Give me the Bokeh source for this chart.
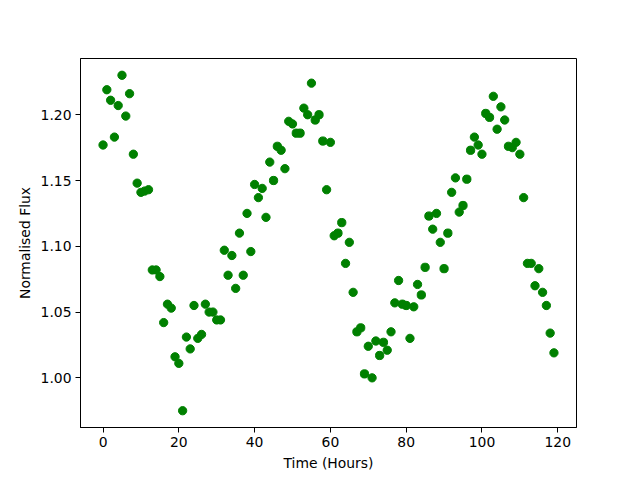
from bokeh.plotting import figure
from bokeh.models import Range1d, FixedTicker, NumeralTickFormatter
from bokeh.embed import file_html
from bokeh.resources import INLINE

time_hours = list(range(120))
flux = [
    1.177, 1.219, 1.211, 1.183, 1.207, 1.230, 1.199, 1.216, 1.170, 1.148,
    1.141, 1.142, 1.143, 1.082, 1.082, 1.077, 1.042, 1.056, 1.053, 1.016,
    1.011, 0.975, 1.031, 1.022, 1.055, 1.030, 1.033, 1.056, 1.050, 1.050,
    1.044, 1.044, 1.097, 1.078, 1.093, 1.068, 1.110, 1.078, 1.125, 1.096,
    1.147, 1.137, 1.144, 1.122, 1.164, 1.150, 1.176, 1.173, 1.159, 1.195,
    1.193, 1.186, 1.186, 1.205, 1.200, 1.224, 1.196, 1.200, 1.180, 1.143,
    1.179, 1.108, 1.110, 1.118, 1.087, 1.103, 1.065, 1.035, 1.038, 1.003,
    1.024, 1.000, 1.028, 1.017, 1.027, 1.021, 1.035, 1.057, 1.074, 1.056,
    1.055, 1.030, 1.054, 1.071, 1.063, 1.084, 1.123, 1.113, 1.125, 1.103,
    1.083, 1.110, 1.141, 1.152, 1.126, 1.131, 1.151, 1.173, 1.183, 1.177,
    1.170, 1.201, 1.198, 1.214, 1.189, 1.206, 1.196, 1.176, 1.175, 1.179,
    1.170, 1.137, 1.087, 1.087, 1.070, 1.083, 1.065, 1.055, 1.034, 1.019,
]
x_ticks = [0, 20, 40, 60, 80, 100, 120]
y_ticks = [1.00, 1.05, 1.10, 1.15, 1.20]

xmin, xmax = min(time_hours), max(time_hours)
ymin, ymax = min(flux), max(flux)
xpad = 0.05 * (xmax - xmin)
ypad = 0.05 * (ymax - ymin)

p = figure(width=640, height=480, output_backend="svg", toolbar_location=None,
           x_range=Range1d(xmin - xpad, xmax + xpad),
           y_range=Range1d(ymin - ypad, ymax + ypad),
           min_border_left=80, min_border_right=64, min_border_top=58,
           min_border_bottom=53)
p.frame_width = 496
p.frame_height = 369

p.scatter(time_hours, flux, size=8.3, color="#008000", line_color="#008000")

p.xgrid.visible = False
p.ygrid.visible = False
p.outline_line_color = "black"
p.outline_line_alpha = 1
p.outline_line_width = 1

font = "DejaVu Sans"
for ax in (p.xaxis[0], p.yaxis[0]):
    ax.axis_line_color = "black"
    ax.major_tick_line_color = "black"
    ax.major_tick_out = 5
    ax.major_tick_in = 0
    ax.minor_tick_line_color = None
    ax.major_label_text_font = font
    ax.major_label_text_font_size = "13.9px"
    ax.major_label_text_color = "black"
    ax.axis_label_text_font = font
    ax.axis_label_text_font_size = "13.9px"
    ax.axis_label_text_font_style = "normal"
    ax.axis_label_text_color = "black"

p.xaxis.ticker = FixedTicker(ticks=x_ticks)
p.yaxis.ticker = FixedTicker(ticks=y_ticks)
p.yaxis.formatter = NumeralTickFormatter(format="0.00")
p.xaxis.axis_label = "Time (Hours)"
p.yaxis.axis_label = "Normalised Flux"
p.xaxis.major_label_standoff = 4
p.yaxis.major_label_standoff = 4
p.xaxis.axis_label_standoff = 5
p.yaxis.axis_label_standoff = 5

open("out.html", "w").write(file_html(p, INLINE))
